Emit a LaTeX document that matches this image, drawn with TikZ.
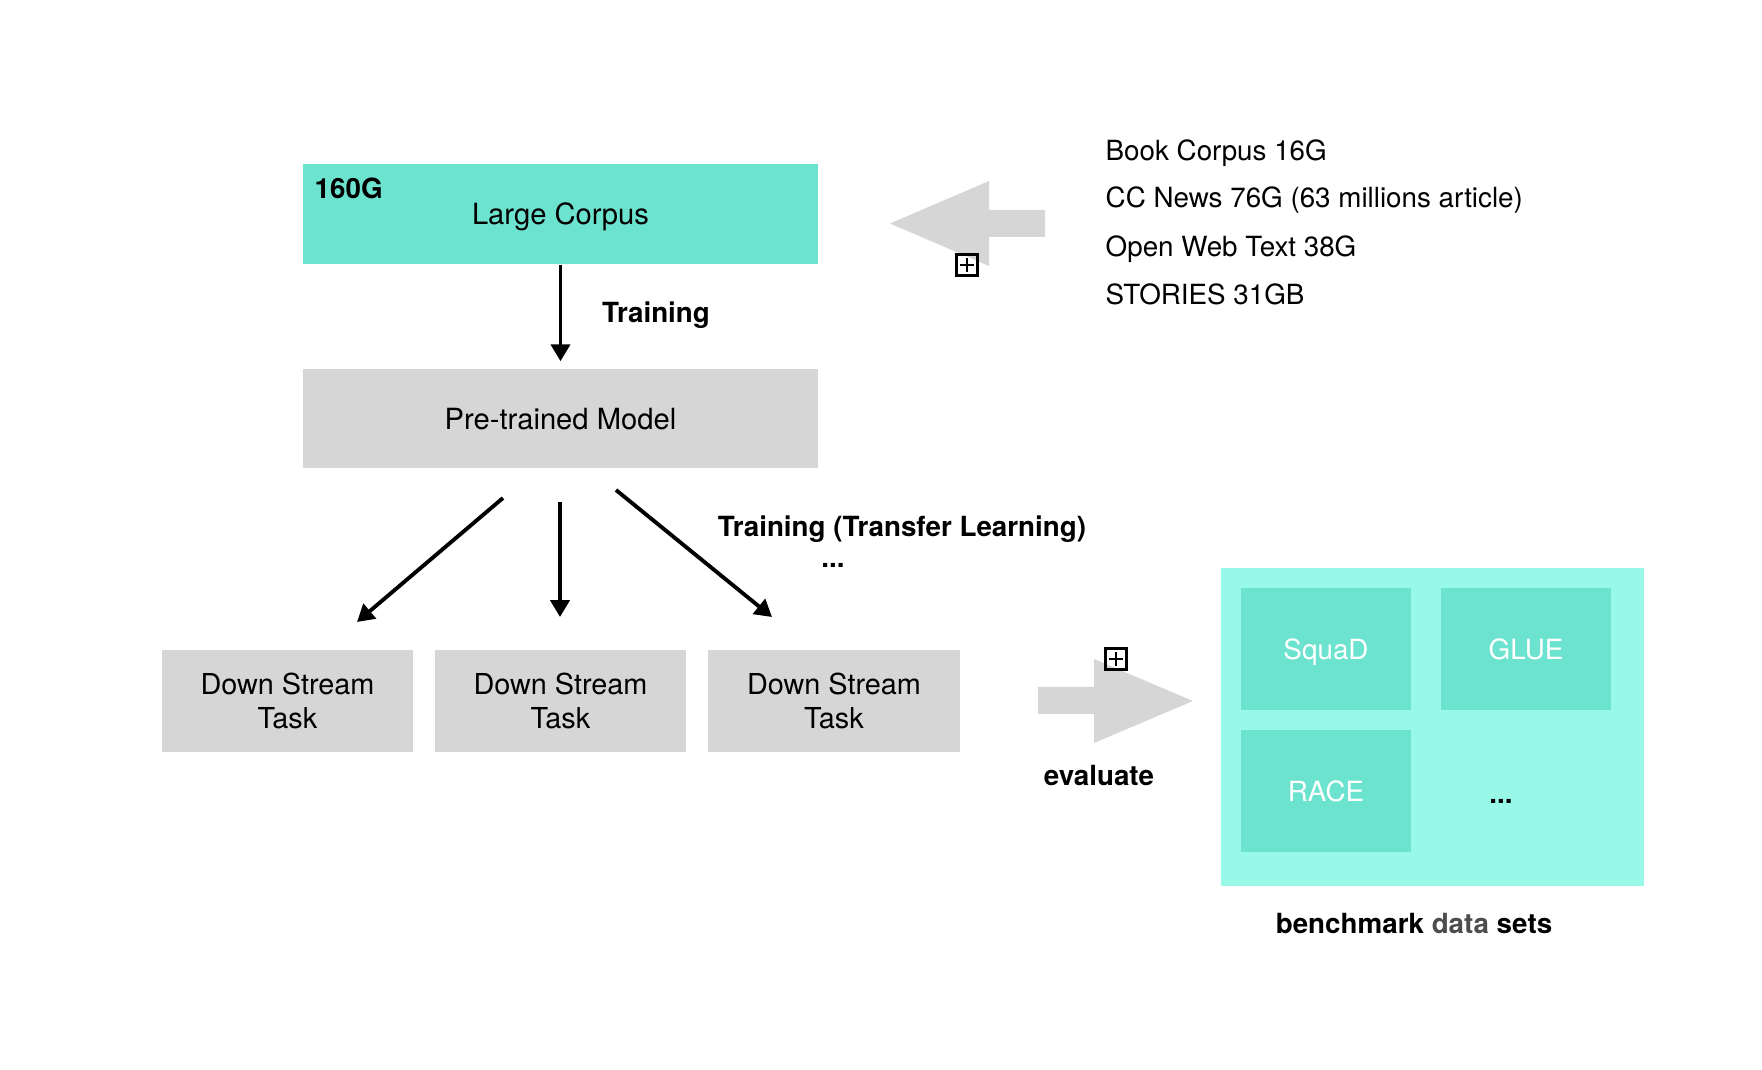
\documentclass[tikz,border=0pt]{standalone}
\usepackage{fontspec}
\setmainfont{TeX Gyre Heros}
\usetikzlibrary{arrows.meta}
\definecolor{corpusteal}{HTML}{6CE3CF}
\definecolor{benchbg}{HTML}{99F9E9}
\definecolor{boxgray}{HTML}{D6D6D6}
\definecolor{datagray}{HTML}{4D4D4D}
\tikzset{
  corpusbox/.style={fill=corpusteal, minimum width=5.15cm, minimum height=1cm, inner sep=0pt, text depth=0pt, font=\fontsize{8.3}{10}\selectfont},
  modelbox/.style={fill=boxgray, minimum width=5.15cm, minimum height=0.99cm, inner sep=0pt, text depth=0pt, font=\fontsize{8.3}{10}\selectfont},
  taskbox/.style={fill=boxgray, minimum width=2.51cm, minimum height=1.02cm, inner sep=0pt, align=center, font=\fontsize{8.2}{9.6}\selectfont},
  benchbox/.style={fill=corpusteal, minimum width=1.7cm, minimum height=1.22cm, inner sep=0pt, text depth=0pt, text=white, font=\fontsize{7.9}{9.5}\selectfont},
  lbl/.style={inner sep=0pt, font=\bfseries\fontsize{7.9}{9.5}\selectfont},
  srclbl/.style={inner sep=0pt, anchor=base west, font=\fontsize{7.9}{9.5}\selectfont},
  flow/.style={-{Triangle[width=5.4pt,length=4.8pt]}, line width=1.1pt},
  plusbox/.style={draw, line width=0.6pt, minimum size=0.21cm, inner sep=0pt,
    path picture={
      \draw[line width=0.45pt] ([yshift=-1pt]path picture bounding box.north) -- ([yshift=1pt]path picture bounding box.south);
      \draw[line width=0.45pt] ([xshift=1pt]path picture bounding box.west) -- ([xshift=-1pt]path picture bounding box.east);
    }}
}
\begin{document}
\begin{tikzpicture}[x=0.01cm,y=-0.01cm]
\useasboundingbox (0,0) rectangle (1762,1070);
% corpus and model
\node[corpusbox] (lc) at (560.5,214) {Large Corpus};
\node[lbl, anchor=base west] (size) at (314,199) {160G};
\node[modelbox] (pre) at (560.5,418.5) {Pre-trained Model};
\draw[flow, shorten >=2pt] (lc) -- (pre);
\node[lbl, anchor=base] (trainlbl) at (656,323) {Training};
% data sources
\fill[boxgray] (890,223.5) -- (989,181) -- (989,210) -- (1045,210) -- (1045,237) -- (989,237) -- (989,266) -- cycle;
\node[plusbox] (plus1) at (967,265) {};
\node[srclbl] (src1) at (1105,161) {Book Corpus 16G};
\node[srclbl] (src2) at (1105,208) {CC News 76G (63 millions article)};
\node[srclbl] (src3) at (1105,256.5) {Open Web Text 38G};
\node[srclbl] (src4) at (1105,304.5) {STORIES 31GB};
% down stream tasks
\node[taskbox] (ds1) at (287.5,701) {Down Stream\\Task};
\node[taskbox] (ds2) at (560.5,701) {Down Stream\\Task};
\node[taskbox] (ds3) at (834,701) {Down Stream\\Task};
\coordinate (f1a) at (503,498);
\coordinate (f1b) at (357,622);
\coordinate (f2a) at (560,502);
\coordinate (f2b) at (560,617);
\coordinate (f3a) at (616,490);
\coordinate (f3b) at (772,617);
\draw[flow] (f1a) -- (f1b);
\draw[flow] (f2a) -- (f2b);
\draw[flow] (f3a) -- (f3b);
\node[lbl, anchor=base] (tllbl) at (902,537) {Training (Transfer Learning)};
\node[lbl, anchor=base] (tldots) at (833,568) {...};
% evaluation
\fill[boxgray] (1193,701) -- (1094,659) -- (1094,687) -- (1038,687) -- (1038,714) -- (1094,714) -- (1094,743) -- cycle;
\node[plusbox] (plus2) at (1116,659) {};
\node[lbl, anchor=base] (evallbl) at (1099,786) {evaluate};
\node[fill=benchbg, minimum width=4.23cm, minimum height=3.18cm, inner sep=0pt] (bench) at (1432.5,727) {};
\node[benchbox] (squad) at (1326,649) {SquaD};
\node[benchbox] (glue) at (1526,649) {GLUE};
\node[benchbox] (race) at (1326,791) {RACE};
\node[lbl, anchor=base] (benchdots) at (1501,804) {...};
\node[lbl, anchor=base] (benchlbl) at (1414,933) {benchmark \textcolor{datagray}{data} sets};
\end{tikzpicture}
\end{document}
